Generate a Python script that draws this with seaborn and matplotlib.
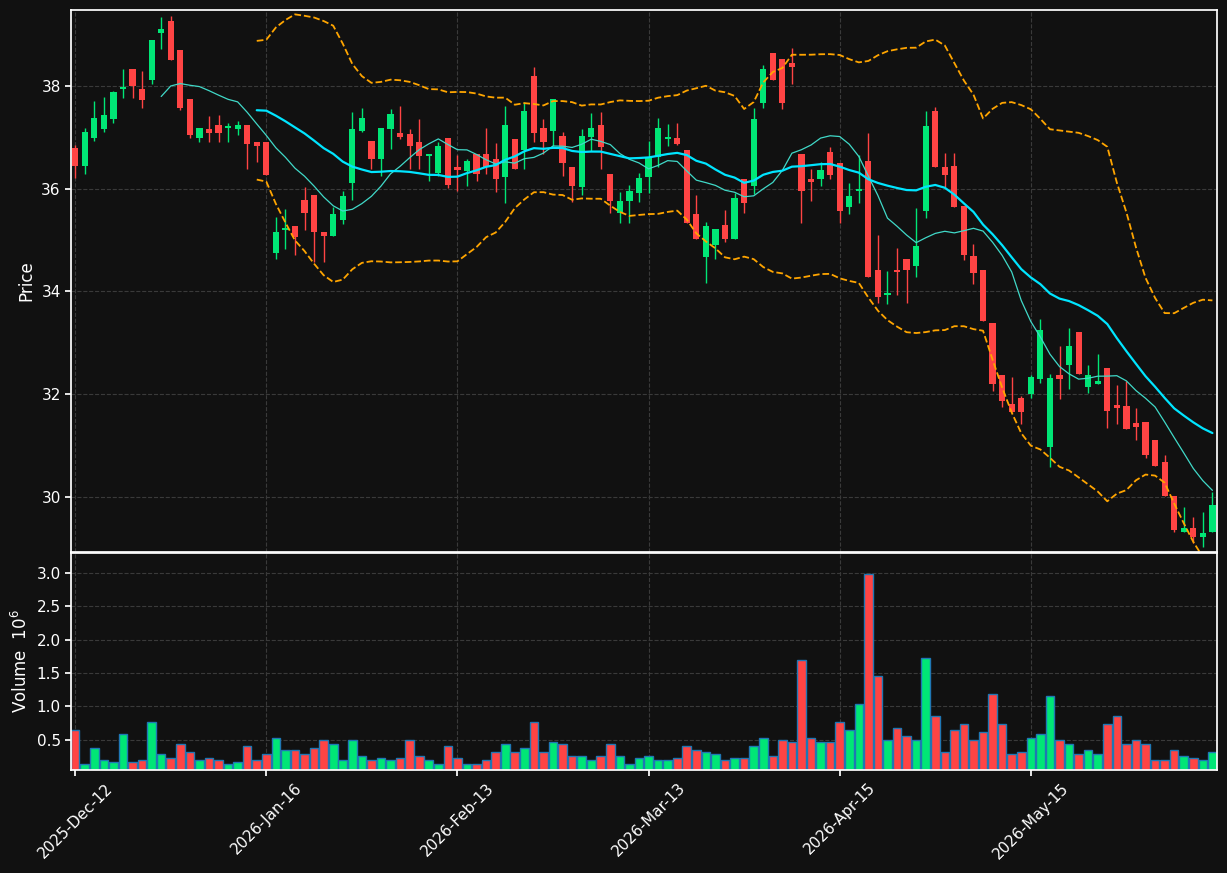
import numpy as np
import pandas as pd
import matplotlib
matplotlib.use("Agg")
import matplotlib.pyplot as plt
import seaborn as sns

# --- data ---
opens = [36.80, 36.45, 36.99, 37.16, 37.36, 37.94, 38.33, 37.94, 38.12, 39.03,
         39.26, 38.70, 37.75, 36.99, 37.16, 37.24, 37.18, 37.16, 37.24, 36.91,
         36.91, 34.75, 35.20, 35.28, 35.78, 35.88, 35.16, 35.08, 35.39, 36.11,
         37.12, 36.93, 36.58, 37.16, 37.08, 37.07, 36.91, 36.64, 36.31, 36.99,
         36.42, 36.35, 36.68, 36.68, 36.58, 36.23, 36.97, 36.75, 38.19, 37.18,
         37.12, 37.03, 36.42, 36.04, 37.00, 37.24, 36.29, 35.53, 35.76, 35.92,
         36.23, 36.62, 36.97, 36.99, 36.75, 35.51, 34.67, 34.91, 35.30, 35.02,
         36.19, 36.05, 37.67, 38.64, 38.53, 38.45, 36.68, 36.19, 36.19, 36.72,
         36.50, 35.65, 35.96, 36.54, 34.42, 33.93, 34.42, 34.63, 34.50, 35.57,
         37.51, 36.42, 36.44, 35.67, 34.69, 34.42, 33.39, 32.38, 31.81, 31.93,
         32.00, 32.30, 30.98, 32.38, 32.57, 33.21, 32.14, 32.20, 32.51, 31.79,
         31.77, 31.44, 31.46, 31.11, 30.68, 30.02, 29.32, 29.40, 29.23, 29.32]
highs = [36.85, 37.18, 37.70, 37.78, 37.90, 38.33, 38.33, 38.29, 38.90, 39.34,
         39.36, 38.70, 37.75, 37.18, 37.41, 37.43, 37.28, 37.32, 37.24, 36.91,
         36.91, 35.45, 35.60, 35.28, 36.03, 35.88, 35.16, 35.65, 35.96, 37.49,
         37.58, 36.93, 37.18, 37.55, 37.61, 37.16, 37.36, 36.66, 36.91, 36.99,
         36.65, 36.58, 36.68, 37.18, 36.89, 37.61, 36.97, 37.69, 38.37, 37.35,
         37.75, 37.11, 36.42, 37.16, 37.47, 37.49, 36.29, 35.93, 36.07, 36.31,
         36.93, 37.38, 37.26, 37.28, 36.75, 35.88, 35.36, 35.22, 35.59, 35.92,
         36.19, 37.57, 38.41, 38.64, 38.53, 38.74, 36.68, 36.39, 36.51, 36.82,
         36.50, 36.11, 36.66, 37.09, 35.10, 34.40, 34.85, 34.63, 35.63, 37.51,
         37.59, 36.69, 36.69, 35.67, 34.92, 34.42, 33.39, 32.38, 32.34, 31.97,
         32.38, 33.47, 32.40, 32.94, 33.29, 33.21, 32.57, 32.78, 32.51, 32.18,
         32.26, 31.74, 31.46, 31.11, 30.82, 30.02, 29.81, 29.61, 29.71, 30.09]
lows = [36.20, 36.29, 36.92, 37.10, 37.28, 37.77, 37.77, 37.57, 38.04, 38.72,
        38.50, 37.53, 36.99, 36.91, 36.91, 36.91, 36.91, 37.05, 36.38, 36.52,
        36.27, 34.63, 34.83, 34.71, 35.20, 34.58, 34.58, 35.08, 35.32, 35.78,
        37.10, 36.38, 36.25, 36.77, 36.97, 36.38, 36.38, 36.15, 36.25, 36.01,
        35.95, 36.05, 36.15, 36.29, 35.93, 35.72, 36.38, 36.38, 36.91, 36.68,
        36.83, 36.25, 35.75, 35.88, 36.73, 36.38, 35.53, 35.34, 35.34, 35.75,
        35.92, 36.42, 36.83, 36.85, 35.33, 35.02, 34.17, 34.63, 34.96, 35.02,
        35.53, 35.89, 37.57, 38.12, 37.55, 38.04, 35.33, 35.76, 36.06, 36.19,
        35.33, 35.51, 35.72, 34.28, 33.78, 33.76, 33.93, 33.78, 34.28, 35.42,
        36.42, 36.03, 35.65, 34.61, 34.15, 33.43, 32.07, 31.75, 31.66, 31.42,
        31.93, 32.22, 30.59, 31.91, 32.10, 32.40, 32.03, 32.20, 31.34, 31.42,
        31.33, 31.11, 30.76, 30.61, 30.02, 29.32, 29.32, 29.11, 29.02, 29.32]
closes = [36.45, 37.10, 37.38, 37.44, 37.88, 37.96, 38.00, 37.73, 38.90, 39.10,
          38.50, 37.57, 37.05, 37.18, 37.09, 37.09, 37.18, 37.24, 36.87, 36.83,
          36.27, 35.16, 35.20, 35.06, 35.53, 35.16, 35.08, 35.51, 35.86, 37.16,
          37.38, 36.58, 37.18, 37.45, 37.00, 36.83, 36.64, 36.64, 36.83, 36.07,
          36.37, 36.54, 36.29, 36.42, 36.19, 37.24, 36.38, 37.51, 37.08, 36.91,
          37.75, 36.50, 36.05, 37.03, 37.18, 36.81, 35.76, 35.76, 35.96, 36.21,
          36.60, 37.18, 36.97, 36.87, 35.33, 35.02, 35.28, 35.22, 35.02, 35.82,
          35.72, 37.36, 38.33, 38.12, 37.67, 38.37, 35.96, 36.13, 36.37, 36.27,
          35.57, 35.86, 35.96, 34.28, 33.90, 33.97, 34.38, 34.42, 34.89, 37.22,
          36.42, 36.27, 35.65, 34.71, 34.36, 33.43, 32.20, 31.87, 31.66, 31.66,
          32.34, 33.25, 32.32, 32.30, 32.94, 32.40, 32.38, 32.26, 31.68, 31.74,
          31.33, 31.37, 30.82, 30.61, 30.02, 29.36, 29.40, 29.23, 29.30, 29.85]
# volume in millions
volumes = [0.65, 0.14, 0.38, 0.19, 0.17, 0.58, 0.16, 0.19, 0.76, 0.29,
           0.23, 0.44, 0.32, 0.20, 0.22, 0.20, 0.14, 0.16, 0.40, 0.19,
           0.29, 0.53, 0.35, 0.34, 0.29, 0.38, 0.50, 0.44, 0.20, 0.49,
           0.25, 0.20, 0.23, 0.20, 0.22, 0.50, 0.25, 0.19, 0.14, 0.40,
           0.23, 0.13, 0.13, 0.20, 0.32, 0.43, 0.32, 0.37, 0.77, 0.32,
           0.47, 0.43, 0.26, 0.25, 0.19, 0.25, 0.44, 0.25, 0.14, 0.23,
           0.26, 0.19, 0.19, 0.22, 0.41, 0.35, 0.31, 0.29, 0.19, 0.22,
           0.22, 0.40, 0.53, 0.25, 0.50, 0.46, 1.69, 0.53, 0.47, 0.47,
           0.77, 0.64, 1.03, 2.99, 1.46, 0.50, 0.67, 0.56, 0.50, 1.73,
           0.86, 0.31, 0.64, 0.73, 0.50, 0.61, 1.19, 0.73, 0.28, 0.32,
           0.53, 0.58, 1.16, 0.50, 0.43, 0.28, 0.34, 0.29, 0.73, 0.85,
           0.43, 0.50, 0.43, 0.19, 0.20, 0.35, 0.26, 0.23, 0.20, 0.32]
tick_pos = [0, 20, 40, 60, 80, 100]
tick_labels = ['2025-Dec-12', '2026-Jan-16', '2026-Feb-13', '2026-Mar-13', '2026-Apr-15', '2026-May-15']

df = pd.DataFrame({'open': opens, 'high': highs, 'low': lows, 'close': closes, 'volume': volumes})
df['idx'] = np.arange(len(df))
df['ma10'] = df['close'].rolling(10).mean()
df['ma20'] = df['close'].rolling(20).mean()
sd = df['close'].rolling(20).std(ddof=0)
df['bb_up'] = df['ma20'] + 2 * sd
df['bb_lo'] = df['ma20'] - 2 * sd

BG = '#111111'
UP = '#00e676'
DOWN = '#ff4444'

sns.set_theme(style='dark', rc={
    'figure.facecolor': BG, 'axes.facecolor': BG, 'axes.edgecolor': 'white',
    'text.color': 'white', 'axes.labelcolor': 'white',
    'xtick.color': 'white', 'ytick.color': 'white',
    'grid.color': '#3a3a3a', 'grid.linestyle': '--', 'grid.linewidth': 0.8,
})
plt.rcParams['font.family'] = ['DejaVu Sans']

fig = plt.figure(figsize=(12.27, 8.73), dpi=100)
ax = fig.add_axes([0.058, 0.3677, 0.934, 0.621])
axv = fig.add_axes([0.058, 0.118, 0.934, 0.2486], sharex=ax)

colors = [UP if c >= o else DOWN for o, c in zip(df['open'], df['close'])]

# candles
ax.vlines(df['idx'], df['low'], df['high'], colors=colors, linewidth=1)
body_bottom = np.minimum(df['open'], df['close'])
body_h = np.maximum(np.abs(df['close'] - df['open']), 0.04)
ax.bar(df['idx'], body_h, bottom=body_bottom, width=0.65, color=colors, linewidth=0)

sns.lineplot(data=df, x='idx', y='ma10', ax=ax, color='#40d9c8', linewidth=0.9)
sns.lineplot(data=df, x='idx', y='ma20', ax=ax, color='#00e5ff', linewidth=1.6)
sns.lineplot(data=df, x='idx', y='bb_up', ax=ax, color='#ffa500', linewidth=1.3, linestyle='--')
sns.lineplot(data=df, x='idx', y='bb_lo', ax=ax, color='#ffa500', linewidth=1.3, linestyle='--')

ax.set_ylim(28.93, 39.48)
ax.set_xlim(-0.42, 119.5)
ax.set_ylabel('Price')
ax.set_xlabel('')
ax.grid(True, axis='both')
ax.tick_params(axis='x', labelbottom=False, length=0)
ax.tick_params(axis='y', left=True, length=4)

# volume
axv.bar(df['idx'], df['volume'], width=0.9, color=colors, edgecolor='#1f77b4', linewidth=1)
axv.set_ylim(0.045, 3.3)
axv.set_yticks([0.5, 1.0, 1.5, 2.0, 2.5, 3.0])
axv.set_ylabel('Volume  $10^{6}$')
axv.set_xlabel('')
axv.grid(True, axis='both')
axv.set_xticks(tick_pos)
axv.set_xticklabels(tick_labels, rotation=45, ha='center')
axv.tick_params(axis='both', length=4, bottom=True, left=True)
axv.tick_params(axis='x', labelsize=11)

for a in (ax, axv):
    for s in a.spines.values():
        s.set_color('white')

fig.savefig('out.png', dpi=100, facecolor=BG)
